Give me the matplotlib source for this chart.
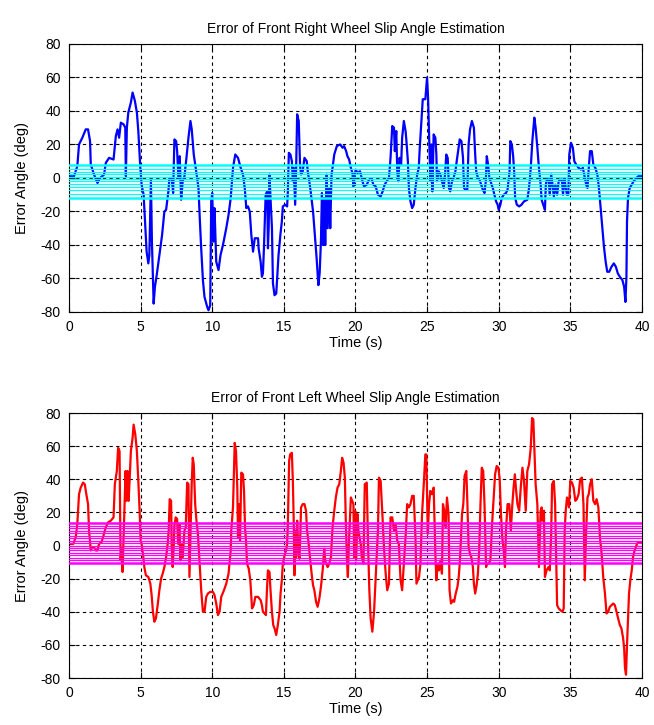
import matplotlib
matplotlib.use("Agg")
import matplotlib.pyplot as plt
import numpy as np

plt.rcParams["font.family"] = ["Liberation Sans", "DejaVu Sans"]
plt.rcParams["axes.unicode_minus"] = False

# slip angle estimation error, front right wheel: (time [s], error [deg])
front_right = [
    (0.00, 1), (0.35, 1), (0.58, 7), (0.70, 20), (0.93, 24), (1.17, 29), (1.33, 29),
    (1.47, 22), (1.52, 8), (1.75, 2), (1.99, -3), (2.17, 0), (2.45, 2), (2.57, 9),
    (2.80, 12), (3.11, 11), (3.27, 25), (3.39, 29), (3.50, 24), (3.62, 33), (3.81, 32),
    (3.93, 30), (3.97, 1), (4.04, 30), (4.14, 39), (4.32, 45), (4.44, 51), (4.60, 46),
    (4.74, 39), (4.84, 28), (4.98, 6), (5.07, -4), (5.21, -10), (5.26, -18), (5.33, -30),
    (5.42, -44), (5.54, -51), (5.61, -46), (5.72, -1), (5.79, -38), (5.91, -75),
    (6.00, -65), (6.14, -57), (6.31, -46), (6.50, -34), (6.66, -20), (6.78, -19),
    (6.94, -8), (7.01, 0), (7.17, 0), (7.27, -9), (7.36, 23), (7.48, 22), (7.55, 16),
    (7.64, 0), (7.73, 13), (7.83, -13), (7.94, -2), (8.06, 1), (8.20, 12), (8.34, 24),
    (8.48, 34), (8.57, 29), (8.71, 14), (8.88, 4), (9.04, -6), (9.14, -26), (9.23, -42),
    (9.35, -61), (9.46, -71), (9.65, -77), (9.74, -79), (9.86, -76), (9.93, -14),
    (10.00, -9), (10.09, -38), (10.16, -18), (10.28, -50), (10.44, -55), (10.58, -46),
    (10.75, -40), (10.98, -30), (11.14, -22), (11.29, -12), (11.45, 6), (11.61, 14),
    (11.80, 12), (11.99, 6), (12.15, 2), (12.27, -6), (12.38, -18), (12.50, -17),
    (12.62, -20), (12.73, -34), (12.85, -44), (12.97, -36), (13.20, -36), (13.24, -42),
    (13.38, -50), (13.47, -59), (13.54, -57), (13.61, -42), (13.73, -10), (13.84, -8),
    (13.89, -42), (13.94, -30), (14.00, 2), (14.07, -12), (14.17, -30), (14.24, -63),
    (14.35, -70), (14.47, -69), (14.54, -59), (14.63, -46), (14.77, -33), (14.86, -26),
    (14.93, -17), (15.09, -16), (15.23, -17), (15.28, -8), (15.35, 15), (15.46, 14),
    (15.56, 10), (15.63, -2), (15.69, 6), (15.79, -16), (15.86, 6), (15.93, 38),
    (16.04, 34), (16.13, 8), (16.20, 2), (16.32, 4), (16.44, 12), (16.60, 10), (16.67, 4),
    (16.78, -2), (16.90, -10), (17.04, -20), (17.18, -36), (17.29, -48), (17.41, -64),
    (17.50, -57), (17.59, -38), (17.66, -9), (17.73, -40), (17.82, -12), (17.89, -40),
    (17.99, 2), (18.06, -30), (18.17, -6), (18.24, -30), (18.33, 2), (18.43, 8),
    (18.52, 14), (18.70, 19), (18.94, 20), (19.10, 18), (19.21, 19), (19.35, 16),
    (19.44, 13), (19.56, 11), (19.68, 6), (19.79, 3), (19.86, -5), (19.95, 2), (20.02, 5),
    (20.14, 3), (20.32, 4), (20.49, -2), (20.60, -5), (20.79, -4), (20.95, -1), (21.11, 0),
    (21.25, -4), (21.41, -5), (21.57, -10), (21.76, -11), (21.90, -8), (22.04, -4),
    (22.18, -2), (22.34, 0), (22.45, 12), (22.57, 31), (22.69, 30), (22.75, 16),
    (22.85, 28), (22.92, 4), (22.99, -2), (23.08, 12), (23.19, 8), (23.26, 24), (23.38, 34),
    (23.50, 28), (23.56, 22), (23.66, 10), (23.73, -6), (23.84, -14), (23.96, -18),
    (24.07, -16), (24.19, -6), (24.31, 2), (24.42, 6), (24.49, 18), (24.61, 34), (24.70, 47),
    (24.88, 47), (25.00, 60), (25.07, 48), (25.14, 26), (25.19, 12), (25.23, -2),
    (25.30, 20), (25.37, -8), (25.46, 26), (25.58, 24), (25.65, 14), (25.69, -2), (25.81, 4),
    (25.93, 2), (26.04, -2), (26.16, -6), (26.27, 4), (26.34, 14), (26.44, 12), (26.53, -6),
    (26.62, -8), (26.74, -2), (26.85, 0), (26.98, 4), (27.07, 10), (27.17, 16), (27.28, 23),
    (27.40, 22), (27.51, 12), (27.58, -6), (27.67, -7), (27.81, -7), (27.90, 20), (28.00, 29),
    (28.13, 34), (28.27, 30), (28.36, 14), (28.43, 4), (28.55, 0), (28.66, -1), (28.78, -4),
    (28.89, -7), (29.01, -9), (29.10, -2), (29.17, 13), (29.26, 8), (29.35, 0), (29.47, -3),
    (29.59, -6), (29.70, -10), (29.82, -14), (29.93, -16), (30.00, -19), (30.12, -16),
    (30.21, -12), (30.35, -10), (30.51, -9), (30.62, -7), (30.76, 4), (30.81, 22),
    (30.92, 20), (31.01, 13), (31.08, 4), (31.15, -12), (31.27, -16), (31.43, -17),
    (31.59, -16), (31.77, -14), (32.00, -13), (32.12, -6), (32.24, 6), (32.35, 22),
    (32.42, 29), (32.49, 36), (32.58, 30), (32.70, 18), (32.81, 6), (32.93, -4), (33.00, -13),
    (33.11, -16), (33.23, -19), (33.29, -4), (33.39, 0), (33.50, -2), (33.57, -10), (33.66, 2),
    (33.76, -4), (33.85, -11), (33.96, -4), (34.08, -10), (34.19, -2), (34.31, -1),
    (34.42, -1), (34.49, -10), (34.59, 0), (34.68, -6), (34.77, -10), (34.86, -10),
    (34.93, 14), (35.05, 21), (35.18, 18), (35.28, 10), (35.41, 8), (35.58, 6), (35.74, 5),
    (35.88, 6), (35.97, 2), (36.11, -4), (36.20, -6), (36.29, 6), (36.38, 16), (36.50, 16),
    (36.61, 8), (36.75, 6), (36.89, 2), (37.00, -6), (37.12, -18), (37.24, -30), (37.35, -41),
    (37.47, -50), (37.58, -56), (37.72, -56), (37.88, -53), (38.04, -51), (38.18, -53),
    (38.32, -57), (38.46, -59), (38.64, -61), (38.76, -65), (38.85, -74), (38.92, -59),
    (38.96, -26), (39.03, -12), (39.15, -6), (39.29, -4), (39.42, -2), (39.61, 0),
    (39.75, 1), (40.00, 1),
]

# slip angle estimation error, front left wheel: (time [s], error [deg])
front_left = [
    (0.00, 1), (0.30, 1), (0.47, 5), (0.58, 13), (0.70, 31), (0.82, 35), (0.98, 38),
    (1.10, 37), (1.21, 31), (1.33, 25), (1.40, 9), (1.52, -3), (1.64, -1), (1.75, -1),
    (1.87, -3), (1.99, -3), (2.10, 1), (2.27, 2), (2.41, 6), (2.57, 11), (2.73, 14),
    (2.92, 15), (3.11, 17), (3.20, 37), (3.34, 45), (3.43, 59), (3.53, 57), (3.60, -9),
    (3.67, -1), (3.74, -16), (3.81, 5), (3.88, 25), (3.95, 45), (4.02, 27), (4.09, 45),
    (4.16, 27), (4.23, 39), (4.32, 57), (4.44, 65), (4.51, 73), (4.63, 67), (4.74, 57),
    (4.84, 39), (4.93, 21), (5.00, 3), (5.07, 1), (5.19, -7), (5.26, -13), (5.37, -18),
    (5.54, -19), (5.68, -23), (5.77, -30), (5.86, -40), (5.96, -46), (6.07, -44),
    (6.19, -36), (6.31, -27), (6.43, -20), (6.54, -17), (6.66, -13), (6.78, -7), (6.89, 1),
    (6.96, 9), (7.03, 28), (7.13, 27), (7.17, -1), (7.24, -13), (7.31, -1), (7.36, 12),
    (7.45, 17), (7.55, 16), (7.62, 1), (7.71, 13), (7.78, -9), (7.87, 1), (7.94, -7),
    (8.06, 9), (8.15, 11), (8.25, 38), (8.34, 37), (8.41, -19), (8.48, 5), (8.57, 38),
    (8.64, 53), (8.71, 49), (8.81, 25), (8.90, 15), (9.00, 7), (9.11, -9), (9.23, -27),
    (9.35, -40), (9.46, -40), (9.58, -31), (9.70, -29), (9.86, -28), (10.05, -28),
    (10.16, -30), (10.28, -35), (10.40, -42), (10.51, -40), (10.63, -31), (10.82, -27),
    (10.98, -23), (11.14, -17), (11.29, -3), (11.33, 9), (11.45, 23), (11.57, 62),
    (11.66, 57), (11.75, 35), (11.80, 5), (11.87, 25), (11.94, 3), (12.03, 44), (12.15, 43),
    (12.22, 33), (12.29, 11), (12.36, 3), (12.43, -11), (12.55, -14), (12.66, -21),
    (12.78, -38), (12.90, -36), (13.01, -31), (13.20, -31), (13.38, -33), (13.47, -36),
    (13.54, -40), (13.66, -41), (13.75, -42), (13.82, -27), (13.89, -15), (14.00, -16),
    (14.07, -27), (14.17, -40), (14.26, -48), (14.35, -50), (14.47, -54), (14.58, -48),
    (14.70, -40), (14.77, -29), (14.86, -21), (14.93, -11), (15.05, -6), (15.16, -3),
    (15.23, 1), (15.28, 13), (15.37, 51), (15.44, 55), (15.56, 56), (15.63, 39), (15.69, 15),
    (15.74, -18), (15.79, 9), (15.86, -7), (15.93, 15), (16.02, -3), (16.09, -8), (16.16, 9),
    (16.20, 23), (16.32, 25), (16.44, 25), (16.55, 21), (16.62, 9), (16.71, 3), (16.85, -9),
    (16.94, -17), (17.04, -24), (17.13, -27), (17.25, -34), (17.36, -37), (17.48, -32),
    (17.59, -25), (17.71, -15), (17.82, -2), (17.89, -9), (17.96, -11), (18.06, -13),
    (18.17, -11), (18.29, -7), (18.40, 11), (18.52, 21), (18.63, 29), (18.75, 35),
    (18.87, 37), (18.98, 45), (19.07, 53), (19.17, 50), (19.26, 41), (19.33, 13),
    (19.40, -7), (19.47, -19), (19.54, 1), (19.61, 15), (19.68, 29), (19.77, 27), (19.86, 25),
    (19.91, -7), (19.98, 21), (20.05, -9), (20.14, 19), (20.21, 9), (20.28, 5), (20.37, 1),
    (20.44, -7), (20.56, -11), (20.65, 37), (20.79, 38), (20.88, 1), (20.97, -27),
    (21.06, -44), (21.18, -52), (21.30, -40), (21.39, -23), (21.48, -7), (21.57, 9),
    (21.64, 41), (21.76, 39), (21.88, 19), (21.99, -1), (22.11, -17), (22.22, -27),
    (22.34, -23), (22.45, 17), (22.57, 17), (22.69, 9), (22.80, 13), (22.92, 3), (23.03, 1),
    (23.15, -21), (23.26, -27), (23.38, -11), (23.50, 5), (23.61, 25), (23.73, 23),
    (23.84, 25), (23.96, 30), (24.07, 30), (24.19, 5), (24.26, -23), (24.35, -21),
    (24.44, -19), (24.54, -11), (24.65, 19), (24.77, 37), (24.88, 55), (24.95, 55),
    (25.05, 7), (25.14, 25), (25.23, 33), (25.35, 31), (25.46, 35), (25.58, -5), (25.65, -21),
    (25.74, -11), (25.83, -15), (25.93, -9), (26.04, -17), (26.11, 25), (26.20, 21),
    (26.30, 11), (26.39, 29), (26.50, 19), (26.57, -27), (26.67, -35), (26.81, -33),
    (26.89, -34), (27.00, -29), (27.12, -25), (27.21, -19), (27.28, -11), (27.35, 1),
    (27.44, 19), (27.53, 25), (27.62, 42), (27.74, 45), (27.81, 27), (27.90, -1), (28.00, -5),
    (28.09, -7), (28.20, -13), (28.27, -23), (28.36, -29), (28.46, -24), (28.55, -17),
    (28.64, -3), (28.73, 25), (28.82, 47), (28.92, 45), (29.01, 25), (29.12, -13),
    (29.19, -11), (29.29, -11), (29.42, -9), (29.54, 13), (29.65, 29), (29.75, 43),
    (29.86, 48), (29.98, 47), (30.07, 40), (30.16, 19), (30.25, 5), (30.35, -3), (30.44, -13),
    (30.51, 9), (30.62, 25), (30.74, 25), (30.85, 9), (30.94, 23), (31.04, 35), (31.13, 43),
    (31.22, 33), (31.31, 25), (31.43, 21), (31.54, 35), (31.66, 47), (31.77, 39), (31.89, 21),
    (32.00, 45), (32.12, 49), (32.24, 59), (32.33, 77), (32.42, 76), (32.51, 53), (32.58, 37),
    (32.70, 25), (32.81, -13), (32.93, 21), (33.00, 23), (33.06, 15), (33.16, 21),
    (33.23, -19), (33.34, -15), (33.48, -13), (33.57, -15), (33.66, 5), (33.73, 37),
    (33.85, 39), (33.94, 25), (34.01, -5), (34.08, -36), (34.19, -38), (34.31, -39),
    (34.45, -40), (34.54, -38), (34.61, 9), (34.68, 21), (34.77, 29), (34.84, 27), (34.91, 23),
    (35.00, 39), (35.12, 38), (35.23, 35), (35.35, 27), (35.46, 28), (35.58, 31), (35.69, 40),
    (35.81, 41), (35.92, 25), (36.01, -21), (36.11, 9), (36.20, 29), (36.29, 31), (36.38, 37),
    (36.50, 40), (36.61, 27), (36.73, 25), (36.84, 28), (36.96, 23), (37.07, 5), (37.19, -5),
    (37.30, -19), (37.42, -29), (37.53, -41), (37.65, -40), (37.76, -37), (37.88, -36),
    (38.00, -35), (38.11, -36), (38.23, -40), (38.34, -44), (38.46, -48), (38.57, -50),
    (38.69, -56), (38.76, -62), (38.82, -74), (38.89, -78), (38.96, -60), (39.03, -44),
    (39.10, -29), (39.19, -21), (39.29, -15), (39.38, -7), (39.49, -3), (39.61, 0),
    (39.72, 2), (39.88, 2), (40.00, 2),
]

# constant reference levels drawn across each panel [deg]
right_levels = [7.5, 5.5, 3.8, 2.2, 0.8, -0.6, -2.0, -3.6, -5.4, -7.4, -9.6, -12.0]
left_levels = [13.5, 12.0, 10.5, 9.0, 7.5, 6.0, 4.5, 3.0, 1.5, 0.0, -1.5, -3.0,
               -4.5, -6.0, -7.5, -9.0, -10.8]

y_ticks = [-80, -60, -40, -20, 0, 20, 40, 60, 80]
x_ticks = [0, 5, 10, 15, 20, 25, 30, 35, 40]


def draw_panel(ax, points, line_color, levels, band_color, title):
    t, err = np.array(points).T
    ax.plot(t, err, color=line_color, linewidth=1.6, zorder=2)
    for i, lv in enumerate(levels):
        outer = i == 0 or i == len(levels) - 1
        ax.axhline(lv, color=band_color, linewidth=1.8 if outer else 0.9, zorder=3)
    ax.set_xlim(0, 40)
    ax.set_ylim(-80, 80)
    ax.set_xticks(x_ticks)
    ax.set_yticks(y_ticks)
    ax.grid(True, color="black", linestyle=(0, (3, 3)), linewidth=0.8)
    ax.tick_params(direction="in", top=True, right=True, length=4, labelsize=10, pad=6)
    for s in ax.spines.values():
        s.set_linewidth(0.8)
    ax.set_title(title, fontsize=10, pad=8)
    ax.set_xlabel("Time (s)", fontsize=10.5, labelpad=1)
    ax.set_ylabel("Error Angle (deg)", fontsize=10.5, labelpad=8)


fig = plt.figure(figsize=(6.54, 7.25), dpi=100)
ax_right = fig.add_axes([0.1055, 0.5697, 0.876, 0.3697])
ax_left = fig.add_axes([0.1055, 0.0648, 0.876, 0.3655])

draw_panel(ax_right, front_right, "#0000ff", right_levels, "#00ffff",
           "Error of Front Right Wheel Slip Angle Estimation")
draw_panel(ax_left, front_left, "#ff0000", left_levels, "#ff00ff",
           "Error of Front Left Wheel Slip Angle Estimation")

fig.savefig("out.png", dpi=100, facecolor="white")
